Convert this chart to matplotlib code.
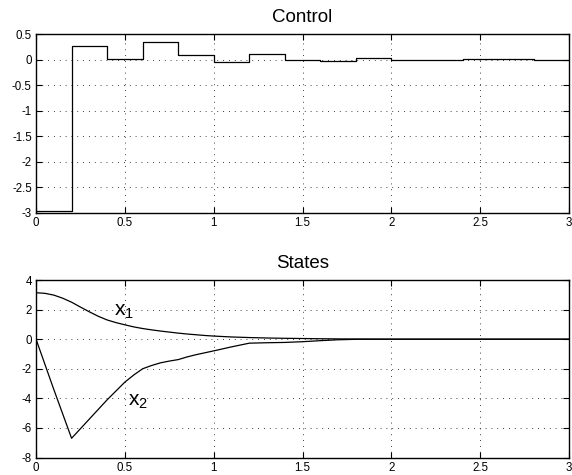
import matplotlib
matplotlib.use("Agg")
import matplotlib.pyplot as plt
import numpy as np

plt.rcParams['font.family'] = ['Liberation Sans', 'DejaVu Sans']
plt.rcParams['mathtext.default'] = 'regular'

# Control (zero-order hold, sample time 0.2)
u_t = [0.0, 0.2, 0.4, 0.6, 0.8, 1.0, 1.2, 1.4, 1.6, 1.8, 2.0, 2.2, 2.4, 2.6, 2.8, 3.0]
u_v = [-2.97, 0.27, 0.02, 0.35, 0.10, -0.05, 0.11, -0.01, -0.03, 0.03, 0.0, 0.0, 0.02, 0.01, 0.0, 0.0]

# States
s_t = [0.0, 0.05, 0.1, 0.15, 0.2, 0.25, 0.3, 0.35, 0.4, 0.45, 0.5, 0.55, 0.6, 0.65, 0.7, 0.75,
       0.8, 0.85, 0.9, 0.95, 1.0, 1.1, 1.2, 1.3, 1.4, 1.5, 1.6, 1.7, 1.8, 2.0, 2.5, 3.0]
x1 = [3.14, 3.10, 2.98, 2.77, 2.5, 2.17, 1.85, 1.55, 1.3, 1.12, 0.97, 0.83, 0.72, 0.63, 0.55, 0.48,
      0.41, 0.35, 0.30, 0.25, 0.21, 0.15, 0.11, 0.08, 0.06, 0.045, 0.03, 0.02, 0.01, 0.0, 0.0, 0.0]
x2 = [0.0, -1.7, -3.4, -5.05, -6.7, -6.05, -5.4, -4.75, -4.1, -3.5, -2.9, -2.42, -2.0, -1.78, -1.6, -1.48,
      -1.38, -1.2, -1.05, -0.92, -0.79, -0.52, -0.27, -0.24, -0.22, -0.17, -0.10, -0.04, -0.01, 0.0, 0.0, 0.0]

x_ticks = [0, 0.5, 1, 1.5, 2, 2.5, 3]
x_ticklabels = ['0', '0.5', '1', '1.5', '2', '2.5', '3']
u_yticks = [0.5, 0, -0.5, -1, -1.5, -2, -2.5, -3]
u_yticklabels = ['0.5', '0', '-0.5', '-1', '-1.5', '-2', '-2.5', '-3']
s_yticks = [4, 2, 0, -2, -4, -6, -8]
s_yticklabels = ['4', '2', '0', '-2', '-4', '-6', '-8']

fig = plt.figure(figsize=(5.72, 4.75), dpi=100)
ax1 = fig.add_axes([0.063, 0.5516, 0.932, 0.3764])
ax2 = fig.add_axes([0.063, 0.0368, 0.932, 0.3737])

def style(ax, yt, ytl, ylim):
    ax.set_xlim(0, 3)
    ax.set_ylim(*ylim)
    ax.set_xticks(x_ticks)
    ax.set_xticklabels(x_ticklabels)
    ax.set_yticks(yt)
    ax.set_yticklabels(ytl)
    ax.tick_params(direction='in', top=True, right=True, labelsize=8.3, length=4, width=0.8, pad=3)
    ax.grid(True, linestyle=(0, (1, 6)), color='black', linewidth=0.6)
    for s in ax.spines.values():
        s.set_linewidth(1.0)

ax1.step(u_t, u_v, where='post', color='black', linewidth=0.9)
style(ax1, u_yticks, u_yticklabels, (-3, 0.5))
ax1.set_title('Control', fontsize=13.5, pad=9)

ax2.plot(s_t, x1, color='black', linewidth=0.9)
ax2.plot(s_t, x2, color='black', linewidth=0.9)
style(ax2, s_yticks, s_yticklabels, (-8, 4))
ax2.set_title('States', fontsize=13.5, pad=9)
ax2.text(0.44, 1.9, 'x$_1$', fontsize=15, va='center', ha='left')
ax2.text(0.52, -4.2, 'x$_2$', fontsize=15, va='center', ha='left')

fig.savefig('out.png', dpi=100)
